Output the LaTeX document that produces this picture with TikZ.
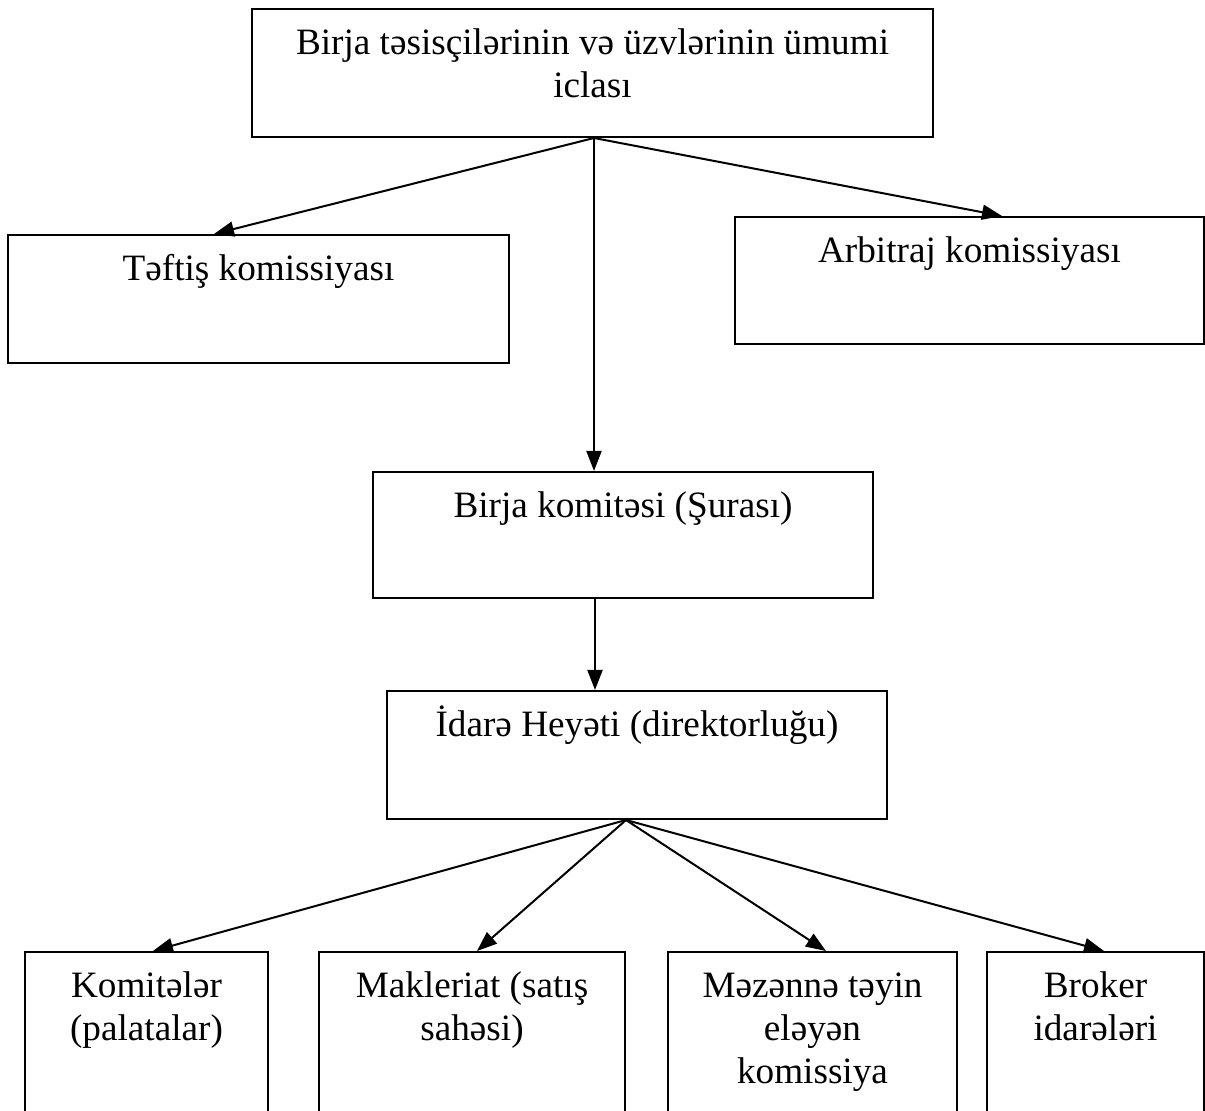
\documentclass[tikz,border=0pt]{standalone}
\usepackage{fontspec}
\setmainfont{Liberation Serif}
\usetikzlibrary{arrows.meta,fit}
% fixed height for the first line of every label
\newcommand\bxstrut{\rule{0pt}{17pt}}
\begin{document}
\begin{tikzpicture}[x=0.5pt,y=-0.5pt,
  box/.style={draw=black, line width=1pt, inner sep=0pt, rectangle},
  lbl/.style={anchor=north, inner sep=0pt, align=center,
              font=\fontsize{18.6pt}{21.5pt}\selectfont},
  link/.style={draw=black, line width=1pt, -{Triangle[length=10pt,width=7.5pt]}}]
\useasboundingbox (0,0) rectangle (1205,1111);
\clip (0,0) rectangle (1205,1111);

% general meeting
\node[box, fit={(252,9) (933,137)}] (gen) {};
\node[lbl] (genT) at ([yshift=-6pt]gen.north) {\bxstrut Birja təsisçilərinin və üzvlərinin ümumi\\iclası};

% commissions
\node[box, fit={(8,235) (509,363)}] (tef) {};
\node[lbl] (tefT) at ([yshift=-6pt]tef.north) {\bxstrut Təftiş komissiyası};
\node[box, fit={(735,217) (1204,344)}] (arb) {};
\node[lbl] (arbT) at ([yshift=-6pt]arb.north) {\bxstrut Arbitraj komissiyası};

% exchange committee
\node[box, fit={(373,472) (873,598)}] (bk) {};
\node[lbl] (bkT) at ([yshift=-6pt]bk.north) {\bxstrut Birja komitəsi (Şurası)};

% board
\node[box, fit={(387,691) (887,819)}] (ih) {};
\node[lbl] (ihT) at ([yshift=-6pt]ih.north) {\bxstrut İdarə Heyəti (direktorluğu)};

% departments
\node[box, fit={(25,952) (268,1130)}] (kom) {};
\node[lbl] (komT) at ([yshift=-6pt]kom.north) {\bxstrut Komitələr\\(palatalar)};
\node[box, fit={(319,952) (625,1130)}] (mak) {};
\node[lbl] (makT) at ([yshift=-6pt]mak.north) {\bxstrut Makleriat (satış\\sahəsi)};
\node[box, fit={(668,952) (957,1130)}] (mez) {};
\node[lbl] (mezT) at ([yshift=-6pt]mez.north) {\bxstrut Məzənnə təyin\\eləyən\\komissiya};
\node[box, fit={(987,952) (1204,1130)}] (bro) {};
\node[lbl] (broT) at ([yshift=-6pt]bro.north) {\bxstrut Broker\\idarələri};

% connectors
\coordinate (hub) at (594,0 |- gen.south);
\draw[link] (hub) -- (214,0 |- tef.north);
\draw[link] (hub) -- (1002,0 |- arb.north);
\draw[link] (hub) -- (hub |- bk.north);
\draw[link] (595,0 |- bk.south) -- (595,0 |- ih.north);
\coordinate (hub2) at (626,0 |- ih.south);
\draw[link] (hub2) -- (153,0 |- kom.north);
\draw[link] (hub2) -- (477,0 |- mak.north);
\draw[link] (hub2) -- (826,0 |- mez.north);
\draw[link] (hub2) -- (1104,0 |- bro.north);
\end{tikzpicture}
\end{document}
